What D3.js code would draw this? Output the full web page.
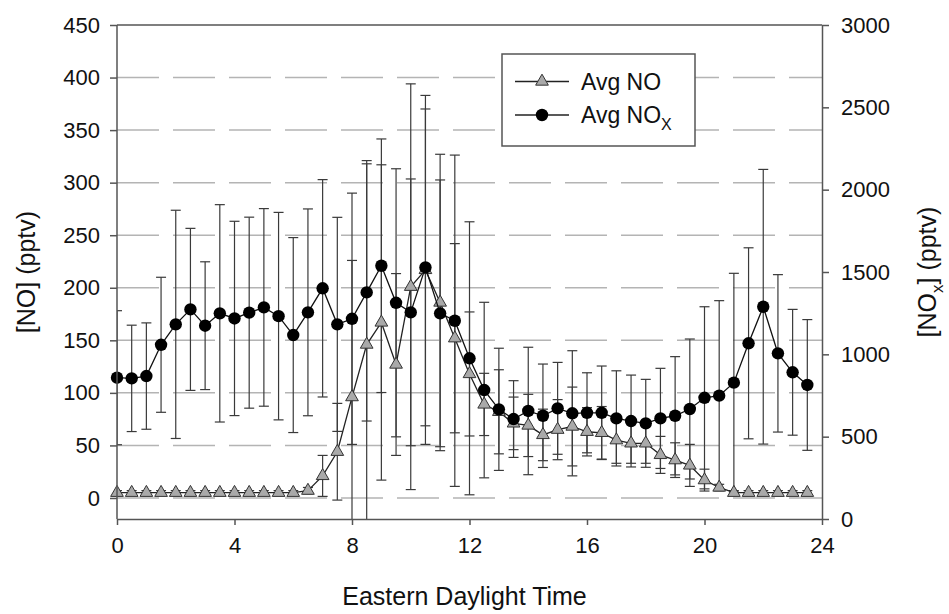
<!DOCTYPE html>
<html lang="en">
<meta charset="utf-8">
<title>NO and NOx diurnal</title>
<head>
<style>
  body { margin: 0; background: #fff; }
  svg text { font-family: "Liberation Sans", Arial, sans-serif; fill: #111; }
</style>
</head>
<body>
  <script src="https://cdn.jsdelivr.net/npm/d3@7"></script>
  <div id="my_dataviz"></div>
  <script>

    // hour of day (EDT), every half hour
    var hours = d3.range(0, 24, 0.5);

    // Avg NO (pptv, left axis) and its std dev
    var noAvg = [5, 5, 5, 5, 5, 5, 5, 5, 5, 5, 5, 5, 5, 7, 21, 44, 96, 146, 167, 127,
      201, 217, 186, 152, 118, 89, 82, 71, 69, 60, 65, 68, 63, 62, 55, 52, 52, 41, 36, 31,
      17, 10, 5, 5, 5, 5, 5, 5];
    var noSd = [2, 2, 2, 2, 2, 2, 2, 2, 2, 2, 2, 2, 2, 3, 19.5, 46, 130, 175, 150, 86.5,
      193, 166, 141, 90, 59, 29.6, 40, 25, 29.6, 24.5, 28.6, 37.5, 23, 25, 22, 19, 19, 17.6, 16.5, 20,
      10.4, 3, 2, 2, 2, 2, 2, 2];

    // Avg NOx (pptv, right axis) and its std dev
    var noxAvg = [858, 854, 868, 1058, 1182, 1273, 1174, 1249, 1218, 1253, 1285, 1232, 1117, 1255, 1401, 1182, 1216, 1376, 1538, 1313,
      1255, 1528, 1249, 1204, 976, 783, 666, 607, 656, 627, 672, 642, 645, 645, 611, 595, 581, 611, 627, 668,
      736, 749, 828, 1067, 1289, 1006, 891, 814];
    var noxSd = [407, 323, 323, 410, 693, 492, 388, 660, 590, 580, 600, 630, 592, 628, 660, 650, 763, 781, 770, 814,
      810, 962, 810, 1006, 829, 533, 371, 233, 387, 314, 279, 380, 243, 284, 289, 279, 267, 304, 359, 425,
      553, 577, 664, 580, 834, 478, 382, 397];

    var xTicks = [0, 4, 8, 12, 16, 20, 24];
    var leftTicks = d3.range(0, 451, 50);
    var rightTicks = d3.range(0, 3001, 500);

    var W = 949, H = 614;
    var margin = { top: 25, right: 127, bottom: 95, left: 117 };
    var width = W - margin.left - margin.right,
      height = H - margin.top - margin.bottom;

    var svg = d3.select("#my_dataviz")
      .append("svg")
      .attr("width", W)
      .attr("height", H)
      .append("g")
      .attr("transform", "translate(" + margin.left + "," + margin.top + ")");

    var x = d3.scaleLinear().domain([0, 24]).range([0, width]);
    var yL = d3.scaleLinear().domain([-20, 450]).range([height, 0]);
    var yR = d3.scaleLinear().domain([0, 3000]).range([height, 0]);

    var axisCol = "#555";

    // dashed gridlines
    svg.append("g")
      .selectAll("line")
      .data(leftTicks.filter(d => d < 450))
      .join("line")
      .attr("x1", 0).attr("x2", width)
      .attr("y1", d => yL(d)).attr("y2", d => yL(d))
      .attr("stroke", "#b4b4b4")
      .attr("stroke-width", 1.5)
      .attr("stroke-dasharray", "42,14");

    svg.append("clipPath").attr("id", "plotclip")
      .append("rect").attr("x", 0).attr("y", 0).attr("width", width).attr("height", height);

    var noData = hours.map((h, i) => ({ t: h, v: noAvg[i], sd: noSd[i] }));
    var noxData = hours.map((h, i) => ({ t: h, v: noxAvg[i], sd: noxSd[i] }));

    // error bars
    function errorBars(data, y, cls) {
      var g = svg.append("g").attr("clip-path", "url(#plotclip)")
        .attr("stroke", "#3a3a3a").attr("stroke-width", 1.2);
      g.selectAll("line.v" + cls)
        .data(data)
        .join("line")
        .attr("x1", d => x(d.t)).attr("x2", d => x(d.t))
        .attr("y1", d => y(d.v - d.sd)).attr("y2", d => y(d.v + d.sd));
      [-1, 1].forEach(s => {
        g.selectAll("line.c" + cls + s)
          .data(data)
          .join("line")
          .attr("x1", d => x(d.t) - 5).attr("x2", d => x(d.t) + 5)
          .attr("y1", d => y(d.v + s * d.sd)).attr("y2", d => y(d.v + s * d.sd));
      });
    }
    errorBars(noxData, yR, "x");
    errorBars(noData, yL, "n");

    // NO line + triangles
    svg.append("path")
      .datum(noData)
      .attr("fill", "none")
      .attr("stroke", "#222")
      .attr("stroke-width", 1.3)
      .attr("d", d3.line().x(d => x(d.t)).y(d => yL(d.v)));

    var tri = d3.symbol().type(d3.symbolTriangle).size(70);
    svg.append("g")
      .selectAll("path")
      .data(noData)
      .join("path")
      .attr("d", tri)
      .attr("transform", d => "translate(" + x(d.t) + "," + yL(d.v) + ")")
      .attr("fill", "#a9a9a9")
      .attr("stroke", "#333")
      .attr("stroke-width", 1);

    // NOx line + circles
    svg.append("path")
      .datum(noxData)
      .attr("fill", "none")
      .attr("stroke", "#111")
      .attr("stroke-width", 1.3)
      .attr("d", d3.line().x(d => x(d.t)).y(d => yR(d.v)));

    svg.append("g")
      .selectAll("circle")
      .data(noxData)
      .join("circle")
      .attr("cx", d => x(d.t))
      .attr("cy", d => yR(d.v))
      .attr("r", 6.2)
      .attr("fill", "#000");

    // axes
    function styleAxis(g) {
      g.selectAll("path.domain").attr("stroke", axisCol).attr("stroke-width", 1.5);
      g.selectAll(".tick line").attr("stroke", axisCol).attr("stroke-width", 1.5);
      g.selectAll(".tick text").attr("font-size", 22).attr("fill", "#111")
        .style("font-family", "Liberation Sans, Arial, sans-serif");
    }

    svg.append("g")
      .attr("transform", "translate(0," + height + ")")
      .call(d3.axisBottom(x).tickValues(xTicks).tickSize(6).tickSizeOuter(0).tickPadding(12))
      .call(styleAxis);

    svg.append("g")
      .call(d3.axisLeft(yL).tickValues(leftTicks).tickSize(7).tickSizeOuter(0).tickPadding(10))
      .call(styleAxis)
      .call(g => g.select("path.domain").attr("d", "M0," + height + "V0"));

    svg.append("g")
      .attr("transform", "translate(" + width + ",0)")
      .call(d3.axisRight(yR).tickValues(rightTicks).tickFormat(d3.format("d"))
        .tickSize(7).tickSizeOuter(0).tickPadding(12))
      .call(styleAxis);

    // top frame
    svg.append("line")
      .attr("x1", 0).attr("x2", width).attr("y1", 0).attr("y2", 0)
      .attr("stroke", axisCol).attr("stroke-width", 1.5);

    // axis titles
    var midY = 247;
    svg.append("text")
      .attr("x", width / 2 - 5)
      .attr("y", height + 86)
      .attr("text-anchor", "middle")
      .attr("font-size", 25)
      .text("Eastern Daylight Time");

    svg.append("text")
      .attr("transform", "translate(" + (-82) + "," + midY + ") rotate(-90)")
      .attr("text-anchor", "middle")
      .attr("font-size", 25)
      .text("[NO] (pptv)");

    var rt = svg.append("text")
      .attr("transform", "translate(" + (width + 114) + "," + midY + ") rotate(-90)")
      .attr("text-anchor", "middle")
      .attr("font-size", 25);
    rt.append("tspan").text("[NO");
    rt.append("tspan").attr("font-size", 17).attr("dy", 7).text("x");
    rt.append("tspan").attr("dy", -7).text("] (pptv)");

    // legend
    var lgX = 385, lgY = 29;
    var lg = svg.append("g").attr("transform", "translate(" + lgX + "," + lgY + ")");
    lg.append("rect")
      .attr("x", 0).attr("y", 0)
      .attr("width", 193).attr("height", 92)
      .attr("fill", "#fff").attr("stroke", "#555").attr("stroke-width", 1.5);
    var lx0 = 13;
    var rows = [27.5, 61];
    rows.forEach(ry => {
      lg.append("line")
        .attr("x1", lx0).attr("x2", lx0 + 54)
        .attr("y1", ry).attr("y2", ry)
        .attr("stroke", "#222").attr("stroke-width", 1.3);
    });
    lg.append("path")
      .attr("d", tri)
      .attr("transform", "translate(" + (lx0 + 27) + "," + rows[0] + ")")
      .attr("fill", "#a9a9a9").attr("stroke", "#333");
    lg.append("circle")
      .attr("cx", lx0 + 27).attr("cy", rows[1]).attr("r", 6.2).attr("fill", "#000");
    lg.append("text")
      .attr("x", lx0 + 66).attr("y", rows[0] + 8)
      .attr("font-size", 23)
      .text("Avg NO");
    var t2 = lg.append("text")
      .attr("x", lx0 + 66).attr("y", rows[1] + 8)
      .attr("font-size", 23);
    t2.append("tspan").text("Avg NO");
    t2.append("tspan").attr("font-size", 16).attr("dy", 7).text("X");

  </script>
</body>
</html>
